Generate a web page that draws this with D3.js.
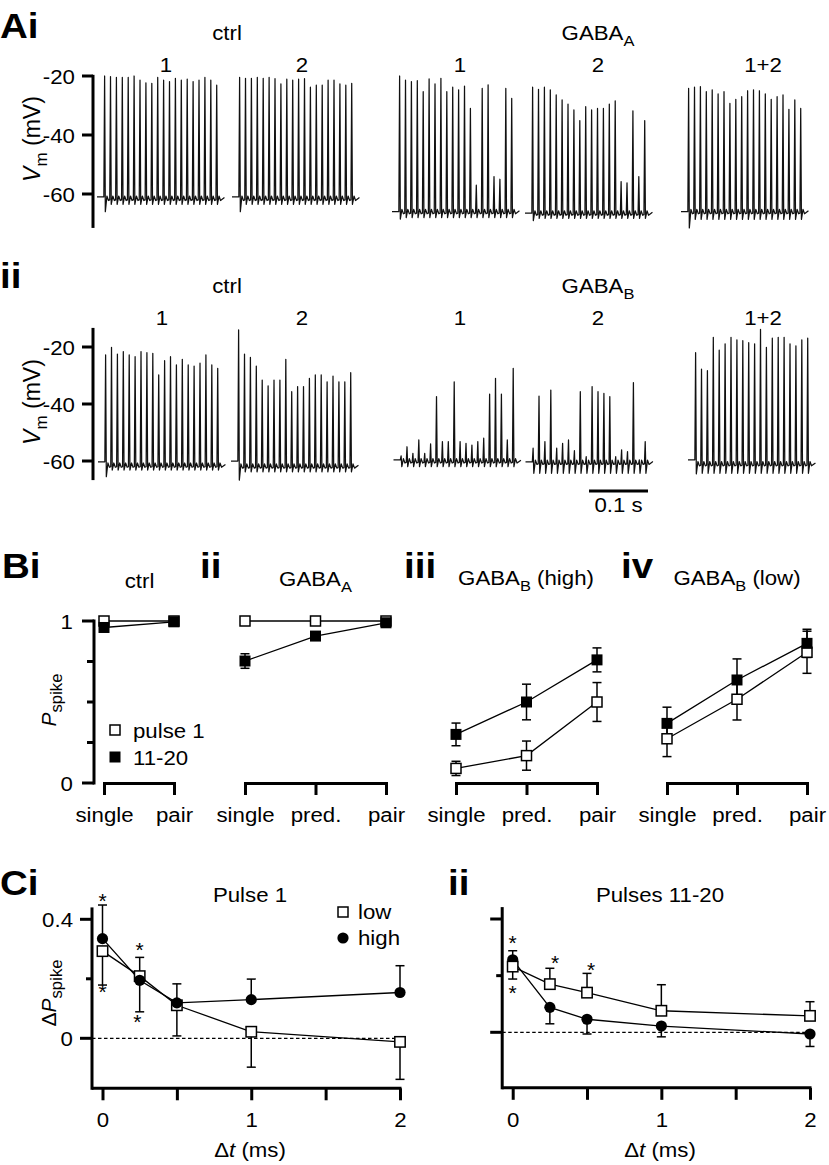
<!DOCTYPE html>
<html><head><meta charset="utf-8">
<script src="https://cdn.jsdelivr.net/npm/d3@7"></script>
<style>
body{margin:0;background:#fff}
svg{display:block}
text{font-family:"Liberation Sans",Arial,Helvetica,sans-serif;fill:#000}
</style></head><body>
<svg id="fig" width="829" height="1165"></svg>
<script>
// ================= DATA =================
// Panel A: spike / EPSP peak voltage (mV) of the 20 pulses (100 Hz) in each trace
const pulseIntervalMs = 10;
const traceLabels = ["1", "2", "1", "2", "1+2"];
const aiCtrl1Peaks  = [-20,-20.2,-20.5,-20.5,-20.5,-20,-21.4,-22.3,-22.5,-20.5,-21.4,-21.9,-20.8,-21.4,-21.1,-21.9,-21.4,-20.5,-21.4,-23.1];
const aiCtrl2Peaks  = [-20.5,-20.8,-20.8,-20.5,-20.8,-20.5,-20.9,-22.7,-21.1,-21.4,-21.1,-20.9,-23.8,-23.1,-23.1,-21.4,-21.4,-22.7,-23.1,-22.5];
const aiGabaA1Peaks = [-20,-21.4,-21.9,-21.6,-25.3,-21,-22.7,-20.8,-25.3,-23.8,-24.7,-23.4,-31,-57,-24.2,-23,-54.1,-55,-24.2,-27.6];
const aiGabaA2Peaks = [-23.8,-24.5,-23.8,-24.7,-26.4,-28.1,-29.5,-31.5,-35.1,-30.4,-31.5,-31,-31,-29.5,-28.4,-55.8,-56.2,-31.8,-54.1,-35.1];
const aiGabaA12Peaks= [-24.2,-23.8,-23.6,-25.3,-24.7,-26.1,-25.3,-29.3,-27.9,-27,-25,-24.7,-25,-26.1,-27.9,-27,-26.4,-31.3,-28.1,-31];
const aiStartV       = [-61, -61, -66, -66.5, -66];
const aiBaseV        = [-62, -62, -66.5, -67, -66.5];
const aiTroughV      = [-63.5, -63.5, -68, -68.3, -68.6];
const aiFirstTroughV = [-66, -66, -68.5, -69, -71.5];

const aiiCtrl1Peaks  = [-22.8,-20.1,-22.5,-21.6,-22.8,-23.4,-21.6,-22,-22.2,-29.8,-24.8,-23.4,-26.3,-24.3,-26.3,-26.7,-25.7,-22.8,-26.3,-27.5];
const aiiCtrl2Peaks  = [-14,-22.5,-23.6,-26.7,-31.6,-33.6,-31.6,-31.6,-24.3,-35.7,-33.9,-33.9,-31,-29.8,-29.8,-32.2,-30.2,-32.2,-32.2,-29];
const aiiGabaB1Peaks = [-58.2,-55,-57.3,-52.6,-57.3,-54,-37.4,-53.2,-53.2,-32.2,-53.2,-53.8,-54.4,-53.2,-52,-36.5,-31,-36.5,-52.6,-27.5];
const aiiGabaB2Peaks = [-55.5,-37.2,-53.2,-35.1,-55.5,-53.8,-52.6,-56.4,-35.7,-58.5,-33.9,-35.7,-36.3,-37.4,-58.5,-56.1,-56.7,-32.5,-59.6,-53.2];
const aiiGabaB12Peaks= [-22,-27.8,-28.3,-16.6,-21.1,-18.9,-16.6,-17.5,-17.8,-18.5,-18.9,-13.8,-20.1,-16.9,-16.6,-16.6,-18.9,-19.6,-17.5,-16.9];
const aiiStartV       = [-60.3, -60, -59.6, -60.3, -59.6];
const aiiBaseV        = [-62, -62.3, -60.5, -61, -61.5];
const aiiTroughV      = [-63.2, -63.8, -62, -64.3, -64.3];
const aiiFirstTroughV = [-65.5, -66.7, -62, -64.3, -64.5];
const aVmTicks = [-20, -40, -60];

// Panel B: spike probability
const bCatsCtrl = ["single", "pair"];
const bCatsDrug = ["single", "pred.", "pair"];
const bYTicks = [0, 0.25, 0.5, 0.75, 1];
const bCtrlPulse1 = [1.0, 1.0];          const bCtrlPulse1Err = [0, 0];
const bCtrlLate   = [0.96, 0.995];       const bCtrlLateErr   = [0.01, 0.005];
const bGabaAPulse1 = [1.0, 1.0, 1.0];    const bGabaAPulse1Err = [0, 0, 0];
const bGabaALate   = [0.753, 0.907, 0.989]; const bGabaALateErr = [0.045, 0.015, 0.01];
const bHighPulse1 = [0.09, 0.169, 0.50]; const bHighPulse1Err = [0.044, 0.09, 0.12];
const bHighLate   = [0.30, 0.50, 0.76];  const bHighLateErr   = [0.07, 0.11, 0.074];
const bLowPulse1  = [0.273, 0.517, 0.807]; const bLowPulse1Err = [0.11, 0.128, 0.13];
const bLowLate    = [0.368, 0.636, 0.862]; const bLowLateErr   = [0.10, 0.13, 0.087];

// Panel C: change in spike probability vs. delta t
const cDt = [0, 0.25, 0.5, 1, 2];
const cXTicks = [0, 0.5, 1, 1.5, 2];
const c1Low  = [0.293, 0.209, 0.111, 0.022, -0.012]; const c1LowErr  = [0.114, 0.12, 0.103, 0.119, 0.126];
const c1High = [0.335, 0.195, 0.119, 0.130, 0.154];  const c1HighErr = [0.113, 0.077, 0.064, 0.069, 0.09];
const c2Low  = [0.116, 0.085, 0.070, 0.038, 0.029];  const c2LowErr  = [0.028, 0.028, 0.034, 0.046, 0.025];
const c2High = [0.128, 0.044, 0.023, 0.011, -0.003]; const c2HighErr = [0.034, 0.029, 0.026, 0.019, 0.022];
const c1Stars = [[0, 0.478], [0, 0.172], [0.25, 0.314], [0.235, 0.072]];
const c2Stars = [[0, 0.166], [0, 0.078], [0.285, 0.131], [0.527, 0.119]];

// ================= DRAWING =================
const SX = 1.06, FS = 21;
const svg = d3.select("#fig");

function addText(parent, x, y, parts, o = {}) {
  const size = o.size || FS;
  const t = parent.append("text")
    .attr("transform", `translate(${x},${y}) scale(${o.sx ?? SX},1)${o.rotate ? ` rotate(${o.rotate})` : ""}`)
    .attr("text-anchor", o.anchor || "middle")
    .style("font-size", size + "px");
  if (o.bold) t.style("font-weight", "bold");
  let shift = 0;
  (Array.isArray(parts) ? parts : [parts]).forEach(p => {
    const s = typeof p === "string" ? { t: p } : p;
    const ts = t.append("tspan").text(s.t);
    const target = s.sub ? size * 0.3 : 0;
    if (target !== shift) { ts.attr("dy", target - shift); shift = target; }
    if (s.sub) ts.style("font-size", (size * (o.subScale || 0.74)) + "px");
    if (s.it) ts.style("font-style", "italic");
  });
  return t;
}

// ---------- Panel A ----------
const msToPx = d3.scaleLinear().domain([0, 100]).range([0, 59]);
const firstPulseMs = 12, traceEndMs = 216;

function tracePoints(peaks, start, base, trough, first) {
  const pts = [[0, start]];
  peaks.forEach((p, i) => {
    const t = firstPulseMs + i * pulseIntervalMs;
    pts.push([t - 0.4, i === 0 ? start : base]);
    pts.push([t + 0.9, p]);
    pts.push([t + 2.1, i === 0 ? first : trough]);
    pts.push([t + 4.8, base + 1.3]);
    pts.push([t + 7.4, base - 0.2]);
  });
  pts.push([traceEndMs, base + 0.8]);
  return pts;
}

const rowsA = [
  { y: d3.scaleLinear().domain([-20, -60]).range([76, 194]), ext: [-19.6, -71.5],
    peaks: [aiCtrl1Peaks, aiCtrl2Peaks, aiGabaA1Peaks, aiGabaA2Peaks, aiGabaA12Peaks],
    start: aiStartV, base: aiBaseV, trough: aiTroughV, first: aiFirstTroughV,
    xs: [97, 232, 392, 525, 681], letter: "Ai", letterY: 38, drug: "A",
    condY: 40, numY: 72, labelY: 139 },
  { y: d3.scaleLinear().domain([-20, -60]).range([347, 461]), ext: [-13.3, -66.7],
    peaks: [aiiCtrl1Peaks, aiiCtrl2Peaks, aiiGabaB1Peaks, aiiGabaB2Peaks, aiiGabaB12Peaks],
    start: aiiStartV, base: aiiBaseV, trough: aiiTroughV, first: aiiFirstTroughV,
    xs: [98, 231, 393.5, 525.5, 688], letter: "ii", letterY: 288, drug: "B",
    condY: 293, numY: 325, labelY: 402 }
];
const aNumX = [[166, 302, 460, 598, 763], [162, 302, 460, 598, 763]];

rowsA.forEach((r, ri) => {
  const g = svg.append("g");
  const line = d3.line().x(d => msToPx(d[0])).y(d => r.y(d[1]));
  r.peaks.forEach((pk, k) => {
    g.append("path")
      .attr("d", line(tracePoints(pk, r.start[k], r.base[k], r.trough[k], r.first[k])))
      .attr("transform", `translate(${r.xs[k]},0)`)
      .attr("fill", "none").attr("stroke", "#111").attr("stroke-width", 1.25)
      .attr("stroke-linejoin", "round");
    addText(g, aNumX[ri][k], r.numY, traceLabels[k]);
  });
  const axX = 93;
  g.append("line").attr("x1", axX).attr("x2", axX)
    .attr("y1", r.y(r.ext[0])).attr("y2", r.y(r.ext[1]))
    .attr("stroke", "#000").attr("stroke-width", 3);
  aVmTicks.forEach(v => {
    g.append("line").attr("x1", axX - 11).attr("x2", axX).attr("y1", r.y(v)).attr("y2", r.y(v))
      .attr("stroke", "#000").attr("stroke-width", 3);
    addText(g, axX - 18, r.y(v) + 7.5, String(v), { anchor: "end" });
  });
  addText(g, 40, r.labelY, [{ t: "V", it: true }, { t: "m", sub: true }, " (mV)"], { rotate: -90, size: 23, sx: 1 });
  addText(g, 0, r.letterY, r.letter, { anchor: "start", bold: true, size: 35, sx: 1.1 });
  addText(g, 227, r.condY, "ctrl");
  addText(g, 598, r.condY, ["GABA", { t: r.drug, sub: true }]);
});
// scale bar
svg.append("line").attr("x1", 589).attr("x2", 589 + msToPx(100)).attr("y1", 491).attr("y2", 491)
  .attr("stroke", "#000").attr("stroke-width", 3);
addText(svg, 618.5, 512, "0.1 s");

// ---------- Panel B ----------
const bY = d3.scaleLinear().domain([0, 1]).range([783, 621]);
{
  const g = svg.append("g");
  g.append("line").attr("x1", 94).attr("x2", 94).attr("y1", bY(1) - 1.5).attr("y2", bY(0) + 1.5)
    .attr("stroke", "#000").attr("stroke-width", 3);
  bYTicks.forEach(v => {
    const major = (v === 0 || v === 1);
    g.append("line").attr("x1", major ? 82 : 87).attr("x2", 94).attr("y1", bY(v)).attr("y2", bY(v))
      .attr("stroke", "#000").attr("stroke-width", 3);
    if (major) addText(g, 73, bY(v) + 7.5, String(v), { anchor: "end" });
  });
  addText(g, 56, 700, [{ t: "P", it: true }, { t: "spike", sub: true }], { rotate: -90, sx: 1, subScale: 0.8 });
  // legend
  g.append("rect").attr("x", 110).attr("y", 725).attr("width", 10).attr("height", 10)
    .attr("fill", "#fff").attr("stroke", "#000").attr("stroke-width", 1.5);
  addText(g, 133, 738, "pulse 1", { anchor: "start" });
  g.append("rect").attr("x", 109.5).attr("y", 751.5).attr("width", 11).attr("height", 11).attr("fill", "#000");
  addText(g, 133, 765, "11-20", { anchor: "start" });
}
const panelsB = [
  { cats: bCatsCtrl, r: [104, 174], open: bCtrlPulse1, openErr: bCtrlPulse1Err, fill: bCtrlLate, fillErr: bCtrlLateErr,
    letter: "Bi", lx: 2, title: ["ctrl"], tx: 139.5, ty: 588 },
  { cats: bCatsDrug, r: [245, 386], open: bGabaAPulse1, openErr: bGabaAPulse1Err, fill: bGabaALate, fillErr: bGabaALateErr,
    letter: "ii", lx: 200, title: ["GABA", { t: "A", sub: true }], tx: 315.5, ty: 586 },
  { cats: bCatsDrug, r: [456, 597], open: bHighPulse1, openErr: bHighPulse1Err, fill: bHighLate, fillErr: bHighLateErr,
    letter: "iii", lx: 404, title: ["GABA", { t: "B", sub: true }, " (high)"], tx: 526, ty: 585 },
  { cats: bCatsDrug, r: [667, 807], open: bLowPulse1, openErr: bLowPulse1Err, fill: bLowLate, fillErr: bLowLateErr,
    letter: "iv", lx: 621, title: ["GABA", { t: "B", sub: true }, " (low)"], tx: 737, ty: 585 }
];
function errBars(g, pts, cap) {
  pts.filter(d => d.e > 0).forEach(d => {
    const [y1, y2] = [d.y1, d.y2];
    g.append("line").attr("x1", d.x).attr("x2", d.x).attr("y1", y1).attr("y2", y2)
      .attr("stroke", "#000").attr("stroke-width", 1.5);
    [y1, y2].forEach(yy => g.append("line").attr("x1", d.x - cap).attr("x2", d.x + cap)
      .attr("y1", yy).attr("y2", yy).attr("stroke", "#000").attr("stroke-width", 1.5));
  });
}
panelsB.forEach(p => {
  const g = svg.append("g");
  const x = d3.scalePoint().domain(p.cats).range(p.r);
  const ax = g.append("g").attr("transform", `translate(0,${bY(0)})`)
    .call(d3.axisBottom(x).tickSize(12).tickSizeOuter(0).tickPadding(12));
  ax.attr("font-family", null).attr("font-size", null);
  ax.select(".domain").attr("stroke-width", 3).attr("stroke-linecap", "square");
  ax.selectAll(".tick line").attr("stroke-width", 3);
  ax.selectAll(".tick text").attr("transform", `scale(${SX},1)`).style("font-size", FS + "px");
  addText(g, p.lx, 578, p.letter, { anchor: "start", bold: true, size: 35, sx: 1.1 });
  addText(g, p.tx, p.ty, p.title);
  const line = d3.line().x((d, i) => x(p.cats[i])).y(d => bY(d));
  [p.open, p.fill].forEach(series => g.append("path").attr("d", line(series))
    .attr("fill", "none").attr("stroke", "#000").attr("stroke-width", 1.3));
  [[p.open, p.openErr], [p.fill, p.fillErr]].forEach(([s, e]) => errBars(g,
    s.map((v, i) => ({ x: x(p.cats[i]), e: e[i], y1: bY(v - e[i]), y2: bY(v + e[i]) })), 4.5));
  g.selectAll(null).data(p.open).enter().append("rect")
    .attr("x", (d, i) => x(p.cats[i]) - 5).attr("y", d => bY(d) - 5).attr("width", 10).attr("height", 10)
    .attr("fill", "#fff").attr("stroke", "#000").attr("stroke-width", 1.5);
  g.selectAll(null).data(p.fill).enter().append("rect")
    .attr("x", (d, i) => x(p.cats[i]) - 5.5).attr("y", d => bY(d) - 5.5).attr("width", 11).attr("height", 11)
    .attr("fill", "#000");
});

// ---------- Panel C ----------
const panelsC = [
  { xr: [102.5, 400], y: d3.scaleLinear().domain([0, 0.4]).range([1038.3, 919.3]), ext: [-0.168, 0.44],
    yTicks: [0, 0.2, 0.4], major: [0, 0.4], labels: true,
    low: c1Low, lowErr: c1LowErr, lowDir: -1, high: c1High, highErr: c1HighErr, highDir: 1, lowOnTop: false,
    stars: c1Stars, letter: "Ci", lx: 0, title: "Pulse 1", tx: 250, legend: true },
  { xr: [512.7, 810], y: d3.scaleLinear().domain([0, 0.2]).range([1032.3, 919]), ext: [-0.098, 0.221],
    yTicks: [0, 0.1, 0.2], major: [0, 0.2], labels: false,
    low: c2Low, lowErr: c2LowErr, lowDir: 1, high: c2High, highErr: c2HighErr, highDir: -1, lowOnTop: true,
    stars: c2Stars, letter: "ii", lx: 448, title: "Pulses 11-20", tx: 660, legend: false }
];
panelsC.forEach(p => {
  const g = svg.append("g");
  const x = d3.scaleLinear().domain([0, 2]).range(p.xr);
  const y = p.y;
  const axX = p.xr[0] - 10.5, axYb = y(p.ext[0]);
  g.append("line").attr("x1", axX).attr("x2", axX).attr("y1", y(p.ext[1])).attr("y2", axYb + 1.5)
    .attr("stroke", "#000").attr("stroke-width", 3);
  g.append("line").attr("x1", axX).attr("x2", x(2) + 1.5).attr("y1", axYb).attr("y2", axYb)
    .attr("stroke", "#000").attr("stroke-width", 3);
  const ax = g.append("g").attr("transform", `translate(0,${axYb})`)
    .call(d3.axisBottom(x).tickValues(cXTicks).tickSize(12).tickPadding(12)
      .tickFormat(d => Number.isInteger(d) ? String(d) : ""));
  ax.attr("font-family", null).attr("font-size", null);
  ax.select(".domain").remove();
  ax.selectAll(".tick line").attr("stroke-width", 3);
  ax.selectAll(".tick text").attr("transform", `scale(${SX},1)`).style("font-size", FS + "px");
  p.yTicks.forEach(v => {
    const major = p.major.includes(v);
    g.append("line").attr("x1", axX - (major ? 12 : 6)).attr("x2", axX).attr("y1", y(v)).attr("y2", y(v))
      .attr("stroke", "#000").attr("stroke-width", 3);
    if (major && p.labels) addText(g, axX - 19, y(v) + 7.5, String(v), { anchor: "end" });
  });
  g.append("line").attr("x1", axX).attr("x2", x(2)).attr("y1", y(0)).attr("y2", y(0))
    .attr("stroke", "#000").attr("stroke-width", 1.3).attr("stroke-dasharray", "3.5,2.5");
  addText(g, p.lx, 895, p.letter, { anchor: "start", bold: true, size: 35, sx: 1.1 });
  addText(g, p.tx, 902, p.title);
  addText(g, p.tx, 1157, ["Δ", { t: "t", it: true }, " (ms)"]);
  if (p.labels) addText(g, 56, 993, ["Δ", { t: "P", it: true }, { t: "spike", sub: true }], { rotate: -90, sx: 1, subScale: 0.8 });
  const line = d3.line().x((d, i) => x(cDt[i])).y(d => y(d));
  [p.low, p.high].forEach(s => g.append("path").attr("d", line(s))
    .attr("fill", "none").attr("stroke", "#000").attr("stroke-width", 1.3));
  errBars(g, p.low.map((v, i) => ({ x: x(cDt[i]), e: p.lowErr[i], y1: y(v), y2: y(v + p.lowDir * p.lowErr[i]) })), 4.5);
  errBars(g, p.high.map((v, i) => ({ x: x(cDt[i]), e: p.highErr[i], y1: y(v), y2: y(v + p.highDir * p.highErr[i]) })), 4.5);
  const drawLow = () => g.selectAll(null).data(p.low).enter().append("rect")
    .attr("x", (d, i) => x(cDt[i]) - 5.2).attr("y", d => y(d) - 5.2).attr("width", 10.4).attr("height", 10.4)
    .attr("fill", "#fff").attr("stroke", "#000").attr("stroke-width", 1.5);
  const drawHigh = () => g.selectAll(null).data(p.high).enter().append("circle")
    .attr("cx", (d, i) => x(cDt[i])).attr("cy", d => y(d)).attr("r", 5.6).attr("fill", "#000");
  if (p.lowOnTop) { drawHigh(); drawLow(); } else { drawLow(); drawHigh(); }
  p.stars.forEach(s => addText(g, x(s[0]), y(s[1]) + 12, "*", { size: 21, sx: 1 }));
  if (p.legend) {
    g.append("rect").attr("x", 338).attr("y", 907).attr("width", 10).attr("height", 10)
      .attr("fill", "#fff").attr("stroke", "#000").attr("stroke-width", 1.5);
    addText(g, 358, 919, "low", { anchor: "start" });
    g.append("circle").attr("cx", 343).attr("cy", 938).attr("r", 5.6).attr("fill", "#000");
    addText(g, 358, 945, "high", { anchor: "start" });
  }
});
</script>
</body></html>
